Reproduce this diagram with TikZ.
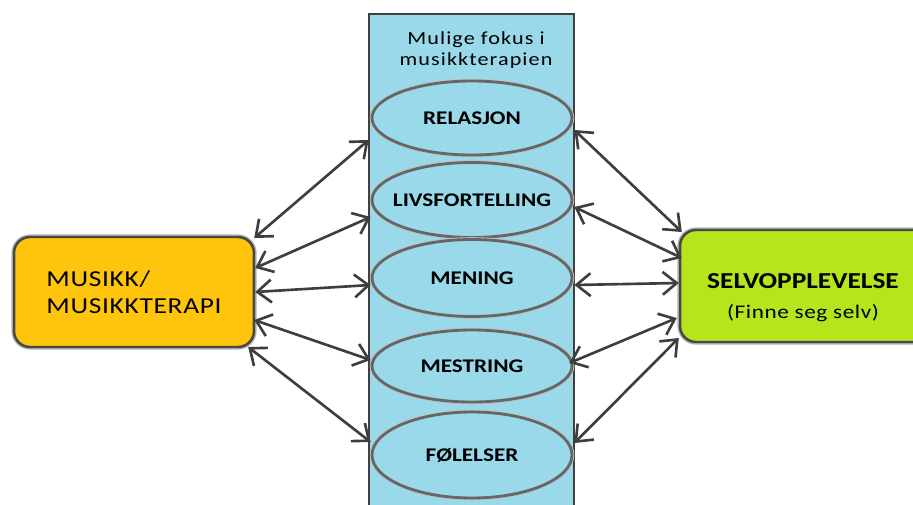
\documentclass[tikz,border=0pt]{standalone}
\usepackage{fontspec}
\setmainfont{Carlito}[FakeStretch=1.2]
\usetikzlibrary{calc}
\usetikzlibrary{shapes}
\usetikzlibrary{arrows.meta}
\usepackage{xcolor}

\definecolor{panelblue}{RGB}{153,217,234}
\definecolor{musikkyellow}{RGB}{255,197,12}
\definecolor{selvgreen}{RGB}{181,229,29}
\definecolor{linegray}{RGB}{62,62,62}

\tikzset{
  fokus/.style={ellipse, draw=black!60, line width=1.6pt, fill=panelblue,
    preaction={draw=black!25, line width=2.6pt},
    minimum width=4cm, inner sep=0pt, font=\fontsize{11}{13}\selectfont\bfseries},
  hovedboks/.style={draw=black!72, line width=1.4pt, rounded corners=0.32cm,
    preaction={draw=black!30, line width=3pt}, inner sep=0pt},
  link/.style={{Straight Barb[length=8pt,width=13pt]}-{Straight Barb[length=8pt,width=13pt]},
    draw=linegray, line width=1.5pt}
}

\begin{document}
\begin{tikzpicture}[x=0.02cm,y=-0.02cm]

\useasboundingbox (0,0) rectangle (913,504);

\newcommand{\fokusring}[4]{
  \node[fokus, minimum height=#3*0.02cm] (#1) at (472,#2) {\makebox[0pt]{#4}};
}

% midtfeltet
\draw[draw=black!75, line width=0.6pt, fill=panelblue] (369,14) rectangle (574,520);
\node[align=center, font=\fontsize{10.5}{12}\selectfont\addfontfeatures{LetterSpace=6}]
  (tittel) at (476,50) {Mulige fokus i\\musikkterapien};

\fokusring{rel}{118}{74}{RELASJON}
\fokusring{livs}{200}{75}{LIVSFORTELLING}
\fokusring{men}{278}{77}{MENING}
\fokusring{mes}{366}{72}{MESTRING}
\fokusring{fol}{455}{86}{FØLELSER}

% boksene
\node[hovedboks, fill=musikkyellow, minimum width=4.8cm, minimum height=2.2cm,
  align=left, font=\fontsize{13}{15.5}\selectfont\addfontfeatures{LetterSpace=3}]
  (musikk) at (134,292) {MUSIKK/\\MUSIKKTERAPI};
\node[hovedboks, fill=selvgreen, minimum width=5cm, minimum height=2.24cm]
  (selv) at (805,286) {};
\node[align=center, font=\fontsize{13}{17}\selectfont\bfseries] (selvtekst) at (803,298)
  {SELVOPPLEVELSE\\{\fontsize{11}{12}\selectfont\mdseries\addfontfeatures{LetterSpace=3}(Finne seg selv)}};

% piler venstre
\draw[link] ($(musikk.east)+(-1,-54)$) -- ($(rel.west)+(-2,22)$);
\draw[link] ($(musikk.east)+(0,-24)$) -- ($(livs.west)+(0,17)$);
\draw[link] ($(musikk.east)+(0,0)$) -- ($(men.west)+(0,7)$);
\draw[link] ($(musikk.east)+(-1,28)$) -- ($(mes.west)+(0,-6)$);
\draw[link] ($(musikk.east)+(-7,55)$) -- ($(fol.west)+(0,-13)$);

% piler hoyre
\draw[link] ($(rel.east)+(1,12)$) -- ($(selv.west)+(3,-54)$);
\draw[link] ($(livs.east)+(1,7)$) -- ($(selv.west)+(3,-28)$);
\draw[link] ($(men.east)+(1,7)$) -- ($(selv.west)+(0,-3)$);
\draw[link] ($(mes.east)+(-4,-3)$) -- ($(selv.west)+(-2,32)$);
\draw[link] ($(fol.east)+(1,-12)$) -- ($(selv.west)+(0,52)$);

\end{tikzpicture}
\end{document}
